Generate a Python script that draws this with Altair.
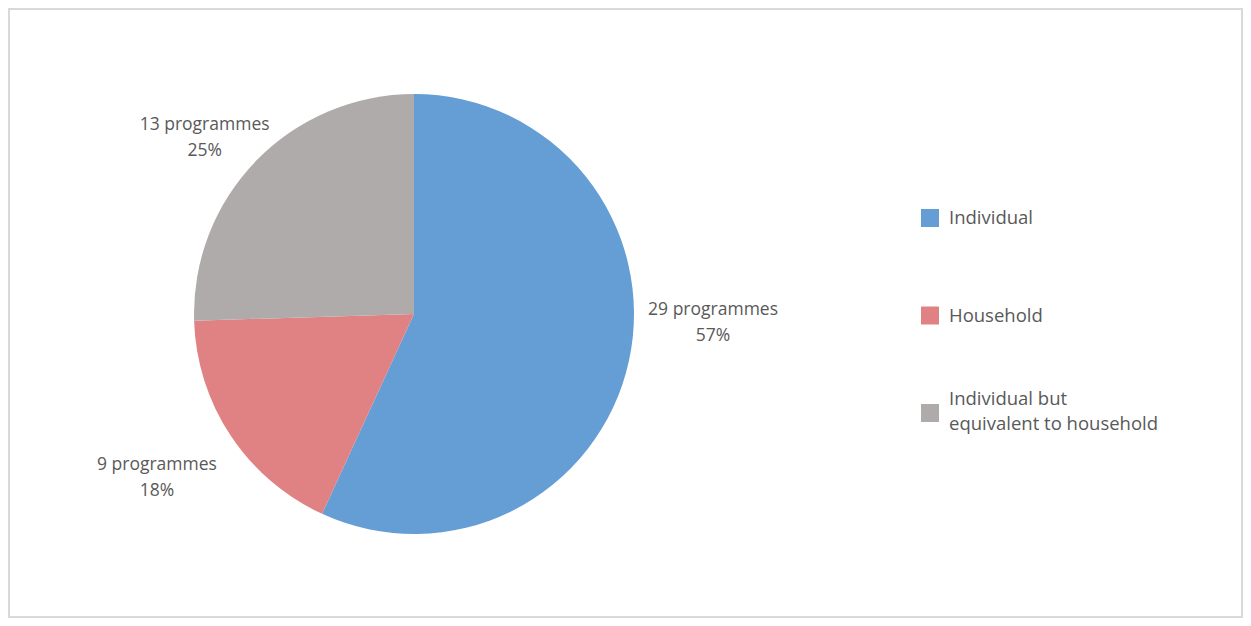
import altair as alt
import pandas as pd

categories = ["Individual", "Household", "Individual but equivalent to household"]
legend_labels = ["Individual", "Household", "Individual but\nequivalent to household"]
counts = [29, 9, 13]
percent_labels = ["57%", "18%", "25%"]
colors = ["#659ED5", "#E08283", "#AFABAB"]

df = pd.DataFrame({
    "category": categories,
    "legend_label": legend_labels,
    "count": counts,
    "pct": percent_labels,
    "order": list(range(len(categories))),
})
df["label"] = df["count"].astype(str) + " programmes\n" + df["pct"]

W, H = 1235, 610
CX, CY, R = 406, 306, 220
FONT = "Open Sans"
TXT = "#595959"

color_scale = alt.Scale(domain=categories, range=colors)
color_enc = alt.Color("category:N", scale=color_scale, legend=None)

base = alt.Chart(df).encode(
    theta=alt.Theta("count:Q", stack=True),
    order=alt.Order("order:Q"),
)

pie = base.mark_arc(outerRadius=R, strokeWidth=0).encode(
    color=color_enc,
    x=alt.value(CX),
    y=alt.value(CY),
)

offsets = {"Individual": (6, -68), "Household": (-7, -15),
           "Individual but equivalent to household": (6, 20)}

label_layers = []
for cat in categories:
    dx, dy = offsets[cat]
    label_layers.append(
        base.mark_text(
            radius=300, font=FONT, fontSize=17.5, color=TXT,
            lineBreak="\n", lineHeight=26, align="center", baseline="middle",
            dx=dx, dy=dy,
        ).encode(
            text="label:N",
            x=alt.value(CX),
            y=alt.value(CY),
            opacity=alt.condition(alt.datum.category == cat, alt.value(1), alt.value(0)),
        )
    )

# legend built from the same colour scale
legend_y = alt.Y("category:N", scale=alt.Scale(domain=categories, range=[210, 405], padding=0), axis=None)
leg_base = alt.Chart(df).encode(y=legend_y)
leg_sq = leg_base.mark_square(size=324, opacity=1, strokeWidth=0).encode(
    x=alt.value(922), color=color_enc
)
leg_txt1 = leg_base.transform_filter(
    alt.datum.category != "Individual but equivalent to household"
).mark_text(
    font=FONT, fontSize=18.5, color=TXT, align="left", baseline="middle"
).encode(x=alt.value(941), text="legend_label:N")
leg_txt2 = leg_base.transform_filter(
    alt.datum.category == "Individual but equivalent to household"
).mark_text(
    font=FONT, fontSize=18.5, color=TXT, align="left", baseline="middle",
    lineBreak="\n", lineHeight=25, dy=-14,
).encode(x=alt.value(941), text="legend_label:N")

border = alt.Chart(df).mark_rect(
    fill=None, stroke="#D9D9D9", strokeWidth=2
).encode(
    x=alt.value(1), x2=alt.value(W - 1), y=alt.value(1), y2=alt.value(H - 1)
)

chart = alt.layer(border, pie, *label_layers, leg_sq, leg_txt1, leg_txt2).properties(
    width=W, height=H,
    autosize=alt.AutoSizeParams(type="none"),
    padding=0,
).configure_view(stroke=None)

chart.save("out.html", embed_options={"renderer": "svg", "actions": False})
